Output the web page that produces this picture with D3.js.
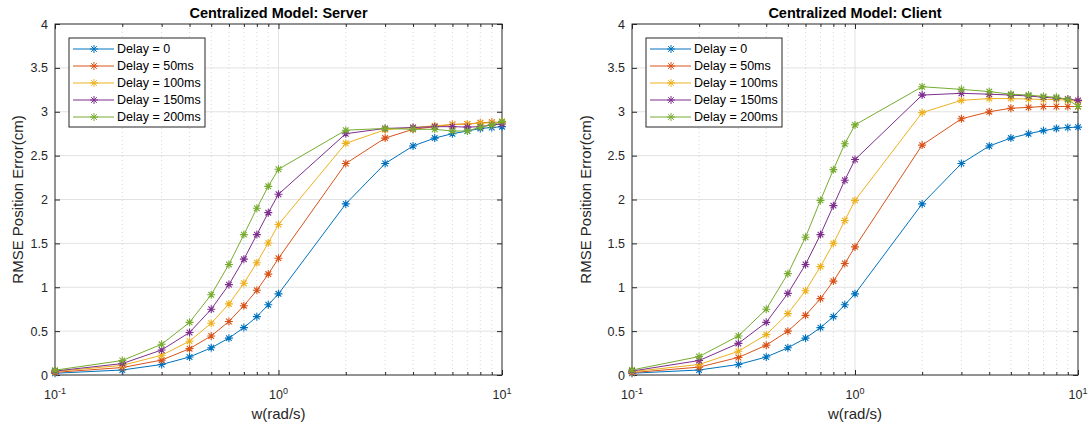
<!DOCTYPE html>
<html>
<head>
<meta charset="utf-8">
<script src="https://cdn.jsdelivr.net/npm/d3@7"></script>
<style>
  body { margin: 0; background: #fff; }
  svg { display: block; font-family: "Liberation Sans", Arial, Helvetica, sans-serif; }
</style>
</head>
<body>
<svg id="chart" width="1091" height="427"></svg>
<script>
// Angular frequency samples (rad/s)
const freqs = [0.1, 0.2, 0.3, 0.4, 0.5, 0.6, 0.7, 0.8, 0.9, 1, 2, 3, 4, 5, 6, 7, 8, 9, 10];

const seriesNames = ["Delay = 0", "Delay = 50ms", "Delay = 100ms", "Delay = 150ms", "Delay = 200ms"];
const seriesColors = ["#0072BD", "#D95319", "#EDB120", "#7E2F8E", "#77AC30"];

// RMSE position error (cm), server side
const serverDelay0   = [0.02, 0.057, 0.12, 0.205, 0.31, 0.42, 0.54, 0.665, 0.80, 0.925, 1.95, 2.41, 2.61, 2.70, 2.75, 2.78, 2.81, 2.82, 2.83];
const serverDelay50  = [0.03, 0.085, 0.17, 0.30, 0.445, 0.61, 0.79, 0.965, 1.15, 1.33, 2.41, 2.70, 2.80, 2.83, 2.855, 2.86, 2.875, 2.88, 2.88];
const serverDelay100 = [0.04, 0.11, 0.225, 0.385, 0.59, 0.81, 1.045, 1.28, 1.505, 1.715, 2.64, 2.795, 2.82, 2.84, 2.855, 2.86, 2.87, 2.875, 2.88];
const serverDelay150 = [0.045, 0.13, 0.285, 0.485, 0.75, 1.03, 1.32, 1.60, 1.85, 2.06, 2.75, 2.81, 2.82, 2.83, 2.83, 2.825, 2.83, 2.85, 2.86];
const serverDelay200 = [0.055, 0.165, 0.35, 0.60, 0.915, 1.26, 1.60, 1.90, 2.15, 2.345, 2.79, 2.81, 2.80, 2.80, 2.78, 2.78, 2.825, 2.85, 2.89];

// RMSE position error (cm), client side
const clientDelay0   = [0.02, 0.057, 0.12, 0.205, 0.31, 0.42, 0.54, 0.665, 0.80, 0.925, 1.95, 2.41, 2.61, 2.70, 2.75, 2.785, 2.81, 2.82, 2.825];
const clientDelay50  = [0.027, 0.09, 0.20, 0.34, 0.50, 0.68, 0.87, 1.07, 1.27, 1.46, 2.62, 2.92, 3.00, 3.04, 3.05, 3.06, 3.06, 3.06, 3.06];
const clientDelay100 = [0.038, 0.12, 0.27, 0.46, 0.70, 0.96, 1.235, 1.50, 1.76, 1.99, 2.99, 3.13, 3.15, 3.15, 3.145, 3.14, 3.14, 3.13, 3.12];
const clientDelay150 = [0.045, 0.165, 0.36, 0.60, 0.93, 1.26, 1.60, 1.93, 2.22, 2.455, 3.19, 3.21, 3.20, 3.19, 3.18, 3.165, 3.155, 3.145, 3.13];
const clientDelay200 = [0.057, 0.21, 0.445, 0.75, 1.155, 1.57, 1.99, 2.34, 2.635, 2.85, 3.285, 3.255, 3.23, 3.20, 3.19, 3.175, 3.165, 3.14, 3.06];

const yTicks = [0, 0.5, 1, 1.5, 2, 2.5, 3, 3.5, 4];
const yTickLabels = ["0", "0.5", "1", "1.5", "2", "2.5", "3", "3.5", "4"];
const xMajorTicks = [0.1, 1, 10];
const xMajorExponents = ["-1", "0", "1"];
const xMinorTicks = [0.2, 0.3, 0.4, 0.5, 0.6, 0.7, 0.8, 0.9, 2, 3, 4, 5, 6, 7, 8, 9];

const xLabel = "w(rad/s)";
const yLabel = "RMSE Position Error(cm)";

const svg = d3.select("#chart");

// MATLAB-style '*' marker: plus and cross combined
function asteriskPath(r) {
  const d = r * Math.SQRT1_2;
  return `M${-r},0L${r},0M0,${-r}L0,${r}M${-d},${-d}L${d},${d}M${-d},${d}L${d},${-d}`;
}

function drawPanel(opts) {
  const { left, right, top, bottom, title, series, yLabelOffset } = opts;
  const x = d3.scaleLog().domain([0.1, 10]).range([left, right]);
  const y = d3.scaleLinear().domain([0, 4]).range([bottom, top]);
  const g = svg.append("g");

  // grid
  g.append("g").selectAll("line").data(xMinorTicks).join("line")
    .attr("x1", d => x(d)).attr("x2", d => x(d))
    .attr("y1", top).attr("y2", bottom)
    .attr("stroke", "#d6d6d6").attr("stroke-width", 1)
    .attr("stroke-dasharray", "1,3");
  g.append("g").selectAll("line").data(yTicks.slice(1, -1)).join("line")
    .attr("x1", left).attr("x2", right)
    .attr("y1", d => y(d)).attr("y2", d => y(d))
    .attr("stroke", "#e2e2e2").attr("stroke-width", 1);
  g.append("g").selectAll("line").data([1]).join("line")
    .attr("x1", d => x(d)).attr("x2", d => x(d))
    .attr("y1", top).attr("y2", bottom)
    .attr("stroke", "#e2e2e2").attr("stroke-width", 1);

  // axes (ticks inward on all four sides)
  const axisColor = "#262626";
  const tickStyle = sel => {
    sel.select(".domain").remove();
    sel.selectAll(".tick line").attr("stroke", axisColor);
  };
  g.append("g").attr("transform", `translate(0,${bottom})`)
    .call(d3.axisBottom(x).tickValues(xMajorTicks).tickSize(-5).tickFormat(""))
    .call(tickStyle);
  g.append("g").attr("transform", `translate(0,${bottom})`)
    .call(d3.axisBottom(x).tickValues(xMinorTicks).tickSize(-3).tickFormat(""))
    .call(tickStyle);
  g.append("g").attr("transform", `translate(0,${top})`)
    .call(d3.axisTop(x).tickValues(xMajorTicks).tickSize(-5).tickFormat(""))
    .call(tickStyle);
  g.append("g").attr("transform", `translate(0,${top})`)
    .call(d3.axisTop(x).tickValues(xMinorTicks).tickSize(-3).tickFormat(""))
    .call(tickStyle);
  const yAxisL = g.append("g").attr("transform", `translate(${left},0)`)
    .call(d3.axisLeft(y).tickValues(yTicks).tickSize(-5).tickPadding(7)
      .tickFormat((d, i) => yTickLabels[i]))
    .call(tickStyle);
  yAxisL.selectAll("text").attr("fill", axisColor).style("font-size", "12.5px")
    .style("font-family", "Liberation Sans, Arial, sans-serif");
  g.append("g").attr("transform", `translate(${right},0)`)
    .call(d3.axisRight(y).tickValues(yTicks).tickSize(-5).tickFormat(""))
    .call(tickStyle);

  // x tick labels as powers of ten
  const xl = g.append("g").selectAll("text").data(xMajorTicks).join("text")
    .attr("x", d => x(d)).attr("y", bottom + 24)
    .attr("text-anchor", "middle").attr("fill", axisColor)
    .style("font-size", "12.5px");
  xl.append("tspan").text("10");
  xl.append("tspan").attr("dy", -5).style("font-size", "9px")
    .text((d, i) => xMajorExponents[i]);

  // box
  g.append("rect").attr("x", left).attr("y", top)
    .attr("width", right - left).attr("height", bottom - top)
    .attr("fill", "none").attr("stroke", axisColor).attr("stroke-width", 1);

  // series
  const line = d3.line().x((d, i) => x(freqs[i])).y(d => y(d));
  series.forEach((vals, si) => {
    const color = seriesColors[si];
    g.append("path").datum(vals).attr("d", line)
      .attr("fill", "none").attr("stroke", color).attr("stroke-width", 1);
    g.append("g").selectAll("path").data(vals).join("path")
      .attr("transform", (d, i) => `translate(${x(freqs[i])},${y(d)})`)
      .attr("d", asteriskPath(4))
      .attr("fill", "none").attr("stroke", color).attr("stroke-width", 1.1);
  });

  // title
  g.append("text").attr("x", (left + right) / 2).attr("y", 18)
    .attr("text-anchor", "middle").attr("fill", "#000")
    .style("font-size", "14.5px").style("font-weight", "bold").text(title);

  // axis labels
  g.append("text").attr("x", (left + right) / 2).attr("y", bottom + 44)
    .attr("text-anchor", "middle").attr("fill", axisColor)
    .style("font-size", "15px").text(xLabel);
  g.append("text")
    .attr("transform", `translate(${left - yLabelOffset},${(top + bottom) / 2}) rotate(-90)`)
    .attr("text-anchor", "middle").attr("fill", axisColor)
    .style("font-size", "15px").text(yLabel);

  // legend
  const lgX = left + 14, lgY = top + 14, lgW = 136, lgH = 89;
  const lg = g.append("g");
  lg.append("rect").attr("x", lgX).attr("y", lgY).attr("width", lgW).attr("height", lgH)
    .attr("fill", "#fff").attr("stroke", axisColor).attr("stroke-width", 1);
  seriesNames.forEach((name, si) => {
    const cy = lgY + 11 + si * 17;
    const color = seriesColors[si];
    lg.append("line").attr("x1", lgX + 4).attr("x2", lgX + 45)
      .attr("y1", cy).attr("y2", cy).attr("stroke", color).attr("stroke-width", 1);
    lg.append("path").attr("transform", `translate(${lgX + 25},${cy})`)
      .attr("d", asteriskPath(4)).attr("fill", "none").attr("stroke", color);
    lg.append("text").attr("x", lgX + 48).attr("y", cy + 4)
      .attr("fill", "#000").style("font-size", "12.5px").text(name);
  });
}

drawPanel({
  left: 55, right: 502, top: 24, bottom: 375, yLabelOffset: 32,
  title: "Centralized Model: Server",
  series: [serverDelay0, serverDelay50, serverDelay100, serverDelay150, serverDelay200]
});
drawPanel({
  left: 632, right: 1078, top: 24, bottom: 375, yLabelOffset: 41,
  title: "Centralized Model: Client",
  series: [clientDelay0, clientDelay50, clientDelay100, clientDelay150, clientDelay200]
});
</script>
</body>
</html>
